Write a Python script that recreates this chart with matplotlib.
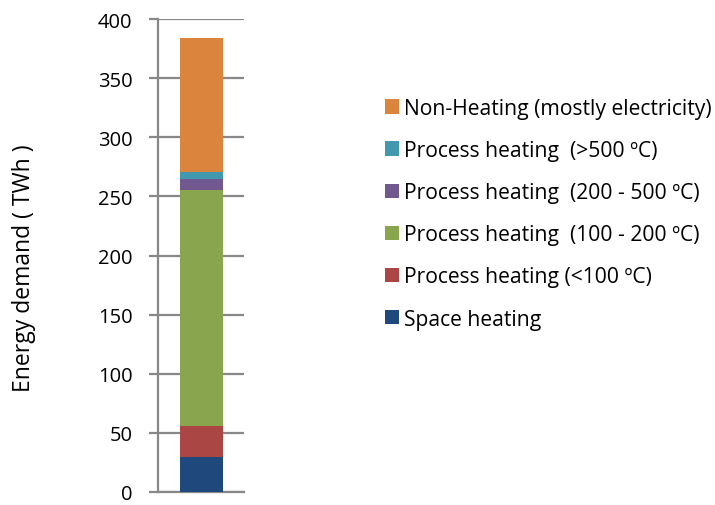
import matplotlib
matplotlib.use("Agg")
import matplotlib.pyplot as plt
from matplotlib.patches import Patch

plt.rcParams['font.family'] = ['Open Sans', 'DejaVu Sans']

categories = ["Space heating", "Process heating (<100 ºC)", "Process heating  (100 - 200 ºC)",
              "Process heating  (200 - 500 ºC)", "Process heating  (>500 ºC)",
              "Non-Heating (mostly electricity)"]
values = [29.5, 26, 200, 9, 6.5, 113]
colors = ["#1F497D", "#AA4644", "#89A54E", "#71588F", "#4198AF", "#DB843D"]
yticks = [0, 50, 100, 150, 200, 250, 300, 350, 400]

fig = plt.figure(figsize=(7.15, 5.06), dpi=100)
ax = fig.add_axes([158/715, 1-493/506, 86/715, 473/506])

bottom = 0
handles = []
for lab, v, c in zip(categories, values, colors):
    ax.bar([0], [v], bottom=bottom, width=0.5, color=c, zorder=3)
    bottom += v
    handles.append(Patch(facecolor=c, label=lab))

ax.set_xlim(-0.5, 0.5)
ax.set_ylim(0, 400)
ax.set_yticks(yticks)
ax.set_xticks([])
ax.yaxis.grid(True, color="#888888", linewidth=1.6, zorder=0)
ax.set_axisbelow(True)
for s in ["top", "right"]:
    ax.spines[s].set_visible(False)
for s in ["left", "bottom"]:
    ax.spines[s].set_color("#888888")
    ax.spines[s].set_linewidth(1.6)
ax.tick_params(axis='y', length=6.5, width=1.6, color="#888888", pad=12, labelsize=14.5)
fig.text(24/715, 1-268/506, "Energy demand ( TWh )", rotation=90,
         ha="center", va="center", fontsize=16.5)

leg = fig.legend(handles=handles[::-1], loc="upper left",
                 bbox_to_anchor=(385/715, 1-99/506), frameon=False,
                 fontsize=15.2, handlelength=0.68, handleheight=0.68,
                 handletextpad=0.2, labelspacing=1.0, borderpad=0, borderaxespad=0)

fig.savefig("out.png", dpi=100)
